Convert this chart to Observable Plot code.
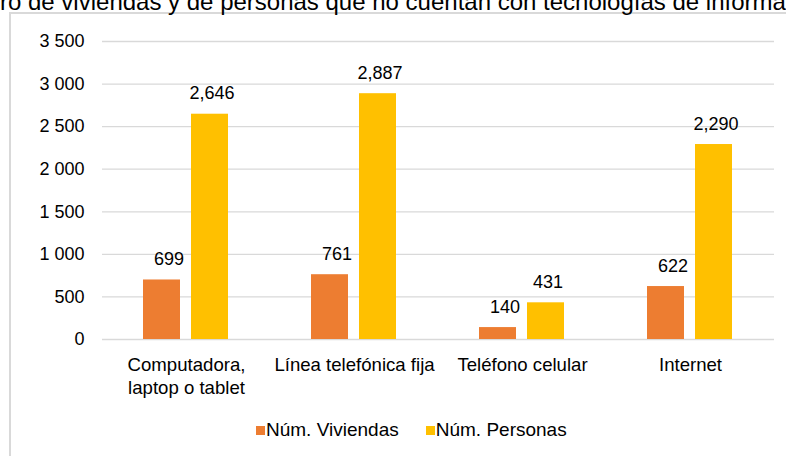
<!DOCTYPE html>
<html>
<head>
<meta charset="utf-8">
<script src="https://cdn.jsdelivr.net/npm/d3@7"></script>
<script src="https://cdn.jsdelivr.net/npm/@observablehq/plot@0.6"></script>
<style>
  html, body { margin: 0; padding: 0; background: #fff; }
  #wrap { position: relative; width: 786px; height: 456px; overflow: hidden;
          font-family: "Liberation Sans", Arial, sans-serif; color: #000; }
  #title { position: absolute; left: 0; top: -12px; font-size: 24px; line-height: 28px; white-space: nowrap; }
  #frame { position: absolute; left: 9px; top: 12px; width: 820px; height: 500px;
           border: 2px solid #d9d9d9; box-sizing: border-box; }
  #chart { position: absolute; left: 0; top: 0; }
  #legend { position: absolute; left: 256px; top: 419px; display: flex; align-items: center;
            font-size: 19px; line-height: 22px; white-space: nowrap; }
  #legend .item { display: flex; align-items: center; }
  #legend .item + .item { margin-left: 27px; }
  #legend .sw { width: 9px; height: 9px; margin-right: 1px; }
</style>
</head>
<body>
<div id="wrap">
  <div id="frame"></div>
  <div id="title">ro de viviendas y de personas que no cuentan con tecnologías de informa</div>
  <div id="chart"></div>
  <div id="legend"></div>
</div>
<script>
const categories = ["Computadora,\nlaptop o tablet", "Línea telefónica fija", "Teléfono celular", "Internet"];
const seriesNames = ["Núm. Viviendas", "Núm. Personas"];
const viviendas = [699, 761, 140, 622];
const personas = [2646, 2887, 431, 2290];
const colors = ["#ED7D31", "#FFC000"];
const yTicks = [0, 500, 1000, 1500, 2000, 2500, 3000, 3500];

const data = categories.flatMap((c, i) => [
  {cat: c, series: seriesNames[0], value: viviendas[i]},
  {cat: c, series: seriesNames[1], value: personas[i]}
]);

const fmtY = d => d3.format(",")(d).replace(/,/g, " ");
const fmtV = d3.format(",");

const chart = Plot.plot({
  width: 786,
  height: 400,
  marginTop: 41,
  marginBottom: 61,
  marginLeft: 101,
  marginRight: 12,
  style: {fontFamily: '"Liberation Sans", Arial, sans-serif', fontSize: "18px", color: "#000", background: "transparent"},
  fx: {domain: categories, padding: 0, label: null},
  x: {domain: seriesNames, paddingInner: 0.22, paddingOuter: 0.86, axis: null},
  y: {domain: [0, 3500], label: null},
  color: {domain: seriesNames, range: colors},
  marks: [
    Plot.ruleY(yTicks, {stroke: "#d9d9d9", strokeWidth: 1.3}),
    Plot.barY(data, {fx: "cat", x: "series", y: "value", fill: "series"}),
    Plot.text(data.filter(d => d.series === seriesNames[0]), {
      fx: "cat", x: "series", y: "value", text: d => fmtV(d.value),
      dy: -15, dx: 7, lineAnchor: "bottom", fill: "#000"
    }),
    Plot.text(data.filter(d => d.series === seriesNames[1]), {
      fx: "cat", x: "series", y: "value", text: d => fmtV(d.value),
      dy: -15, dx: 2, lineAnchor: "bottom", fill: "#000"
    }),
    Plot.axisY({ticks: yTicks, tickSize: 0, tickPadding: 18, tickFormat: fmtY, label: null, fill: "#000"}),
    Plot.axisFx({anchor: "bottom", tickSize: 0, tickPadding: 16, label: null, lineHeight: 1.2, fontSize: 18.6, fill: "#000"})
  ]
});
document.getElementById("chart").appendChild(chart);

const legend = document.getElementById("legend");
seriesNames.forEach((name, i) => {
  const item = document.createElement("div");
  item.className = "item";
  const sw = document.createElement("span");
  sw.className = "sw";
  sw.style.background = colors[i];
  const label = document.createElement("span");
  label.textContent = name;
  item.appendChild(sw);
  item.appendChild(label);
  legend.appendChild(item);
});
</script>
</body>
</html>
